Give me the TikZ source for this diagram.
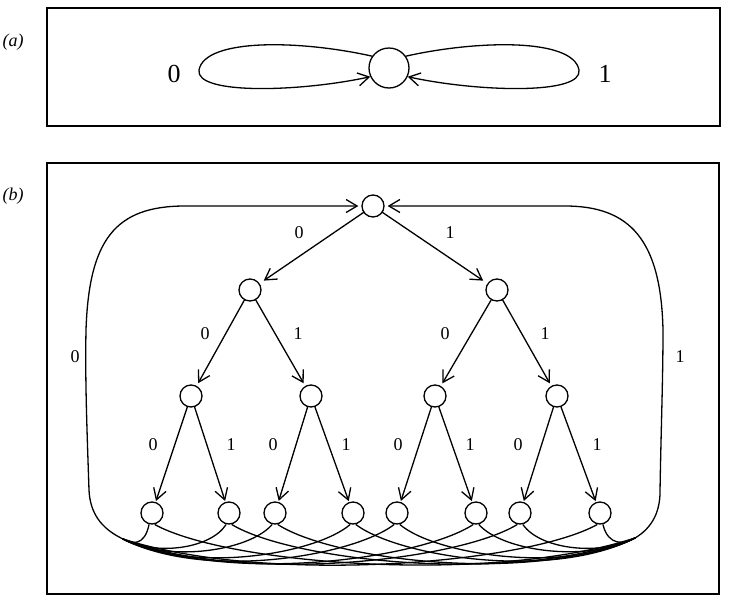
\documentclass[tikz,border=0pt]{standalone}
\usepackage{fontspec}
\setmainfont{Liberation Serif}
\usetikzlibrary{arrows.meta}
\begin{document}
\begin{tikzpicture}[x=1pt,y=-1pt,
  ln/.style={line width=1.3pt, line cap=round, line join=round},
  arr/.style={ln, -{Straight Barb[length=11pt,width=13pt,line width=1.3pt]}},
  st/.style={circle, draw, line width=1.3pt, minimum size=22pt, inner sep=0pt},
  bigst/.style={circle, draw, line width=1.3pt, minimum size=40pt, inner sep=0pt},
  lab/.style={font=\fontsize{18}{18}\selectfont, inner sep=0pt},
  biglab/.style={font=\fontsize{26}{26}\selectfont, inner sep=0pt},
  plab/.style={font=\fontsize{18}{18}\selectfont\itshape, inner sep=0pt}]
\useasboundingbox (0,0) rectangle (732,603);
% frames
\draw[line width=1.2pt] (47,8) rectangle (720,126);
\draw[line width=1.2pt] (47,163) rectangle (719,594);
\node[plab] (pa) at (13,42) {(a)};
\node[plab] (pb) at (13,196) {(b)};
% panel (a)
\node[bigst] (c) at (389,68) {};
\node[biglab] (a0) at (174,74) {0};
\node[biglab] (a1) at (605,74) {1};
\draw[arr] (c.145) .. controls (300,40) and (205,38) .. (199,70) .. controls (195,95) and (300,92) .. (c.205);
\draw[arr] (c.35) .. controls (478,40) and (573,38) .. (579,70) .. controls (583,95) and (478,92) .. (c.-25);
% panel (b) nodes
\node[st] (r) at (373,206) {};
\node[st] (n0) at (250,290) {};
\node[st] (n1) at (497,290) {};
\node[st] (n00) at (191,396) {};
\node[st] (n01) at (311,396) {};
\node[st] (n10) at (435,396) {};
\node[st] (n11) at (557,396) {};
\node[st] (l1) at (152,513) {};
\node[st] (l2) at (229,513) {};
\node[st] (l3) at (275,513) {};
\node[st] (l4) at (353,513) {};
\node[st] (l5) at (397,513) {};
\node[st] (l6) at (476,513) {};
\node[st] (l7) at (520,513) {};
\node[st] (l8) at (600,513) {};
% tree edges
\draw[arr, shorten >=5pt] (r) -- (n0);
\draw[arr, shorten >=5pt] (r) -- (n1);
\draw[arr, shorten >=3pt] (n0) -- (n00);
\draw[arr, shorten >=3pt] (n0) -- (n01);
\draw[arr, shorten >=3pt] (n1) -- (n10);
\draw[arr, shorten >=3pt] (n1) -- (n11);
\draw[arr, shorten >=1pt] (n00) -- (l1);
\draw[arr, shorten >=1pt] (n00) -- (l2);
\draw[arr, shorten >=1pt] (n01) -- (l3);
\draw[arr, shorten >=1pt] (n01) -- (l4);
\draw[arr, shorten >=1pt] (n10) -- (l5);
\draw[arr, shorten >=1pt] (n10) -- (l6);
\draw[arr, shorten >=1pt] (n11) -- (l7);
\draw[arr, shorten >=1pt] (n11) -- (l8);
% edge labels
\node[lab] (e0) at (299,233) {0};
\node[lab] (e1) at (450,233) {1};
\node[lab] (e00) at (205,334) {0};
\node[lab] (e01) at (298,334) {1};
\node[lab] (e10) at (445,334) {0};
\node[lab] (e11) at (545,334) {1};
\node[lab] (f1) at (153,445) {0};
\node[lab] (f2) at (231,445) {1};
\node[lab] (f3) at (273,445) {0};
\node[lab] (f4) at (346,445) {1};
\node[lab] (f5) at (398,445) {0};
\node[lab] (f6) at (470,445) {1};
\node[lab] (f7) at (518,445) {0};
\node[lab] (f8) at (597,445) {1};
\node[lab] (s0) at (75,357) {0};
\node[lab] (s1) at (680,357) {1};
% corners
\coordinate (L) at (123,539);
\coordinate (R) at (635,538);
% big loops
\draw[arr, shorten >=3pt] (L) .. controls (100,528) and (90,512) .. (89,490)
  .. controls (87,430) and (85,380) .. (86,330)
  .. controls (89,240) and (115,206) .. (185,206) -- (r.west);
\draw[arr, shorten >=3pt] (R) .. controls (652,528) and (660,512) .. (660,492)
  .. controls (661,430) and (663,380) .. (663,330)
  .. controls (661,240) and (630,206) .. (565,206) -- (r.east);
% curves from leaves
\foreach \i/\x in {1/152,2/229,3/275,4/353,5/397,6/476,7/520,8/600}{
  \pgfmathsetmacro\dl{\x-123}
  \pgfmathsetmacro\aX{\x-3-0.15*\dl}
  \pgfmathsetmacro\aY{545+0.04*\dl}
  \pgfmathsetmacro\bX{123+0.3*\dl}
  \pgfmathsetmacro\bY{min(540+0.15*\dl,585)}
  \draw[ln] ([xshift=-3pt]l\i.south) .. controls (\aX,\aY) and (\bX,\bY) .. (L);
  \pgfmathsetmacro\dr{635-\x}
  \pgfmathsetmacro\cX{\x+3+0.15*\dr}
  \pgfmathsetmacro\cY{545+0.04*\dr}
  \pgfmathsetmacro\dX{635-0.3*\dr}
  \pgfmathsetmacro\dY{min(539+0.15*\dr,585)}
  \draw[ln] ([xshift=3pt]l\i.south) .. controls (\cX,\cY) and (\dX,\dY) .. (R);
}
\end{tikzpicture}
\end{document}
